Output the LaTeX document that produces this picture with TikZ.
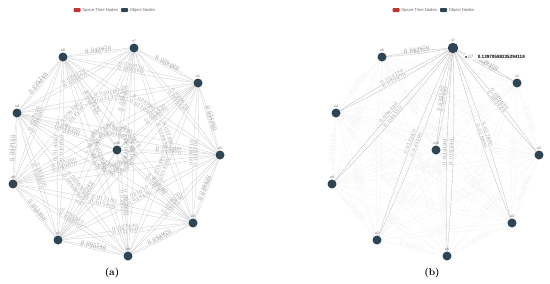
\documentclass[tikz,border=0pt]{standalone}
\usepackage{fontspec}
\newfontfamily\chartfont{Liberation Sans}
\usetikzlibrary{backgrounds}
\definecolor{objnode}{HTML}{2F4554}
\definecolor{stnode}{HTML}{C23531}

\begin{document}
\begin{tikzpicture}[x=1bp, y=-1bp,
    every node/.style={font=\chartfont},
    obj/.style={circle, fill=objnode, inner sep=0pt, minimum size=9bp},
    nlab/.style={font=\chartfont\fontsize{3.5}{4}\selectfont, text=gray!80!black, inner sep=0.8bp},
    link/.style={draw=gray!40, line width=0.3bp},
    elab/.style={font=\chartfont\fontsize{3.3}{3.6}\selectfont, text=gray!75, sloped, auto, inner sep=0.5bp},
    faded/.style={draw=gray!10, line width=0.3bp},
    fadelab/.style={elab, text=gray!12},
    hot/.style={draw=gray!50, line width=0.35bp},
    hotlab/.style={elab, text=gray!80},
    legbox/.style={fill=#1, rounded corners=0.8bp, minimum width=7bp, minimum height=4bp, inner sep=0pt},
    legtext/.style={font=\chartfont\fontsize{4.2}{5}\selectfont, text=gray!80!black, anchor=west, inner sep=0.6bp},
    tipbox/.style={fill=white, fill opacity=0.9, text opacity=1, draw=gray!15, rounded corners=1bp,
                   font=\chartfont\fontsize{4.6}{5}\selectfont, inner sep=1.2bp, anchor=west},
    captext/.style={font=\fontsize{10}{12}\selectfont\bfseries}
]
    \useasboundingbox (0,0) rectangle (550,283);
    % legends
    \node[legbox=stnode] (lsa) at (77,10) {};
    \node[legtext] (lta) at (81.5,10) {Space-Time Nodes};
    \node[legbox=objnode] (loa) at (124.5,10) {};
    \node[legtext] (lob) at (129,10) {Object Nodes};
    \node[legbox=stnode] (lsb) at (396,10) {};
    \node[legtext] (ltb) at (400.5,10) {Space-Time Nodes};
    \node[legbox=objnode] (lob) at (443.5,10) {};
    \node[legtext] (lobb) at (448,10) {Object Nodes};

    % (a) object nodes
    \foreach \n/\px/\py in {1/198/83, 2/58/240, 3/193/223, 4/17/113, 5/220/155,
                            6/63/57, 7/134/48, 8/128/256, 9/13/184, 10/117/150}
        \node[obj, label={[nlab]above:o\n}] (a\n) at (\px,\py) {};
    % (b) object nodes
    \foreach \n/\px/\py in {1/198/83, 2/58/240, 3/193/223, 4/17/113, 5/220/155,
                            6/63/57, 8/128/256, 9/13/184, 10/117/150}
        \node[obj, label={[nlab]above:o\n}] (b\n) at (\px+319,\py) {};
    \node[obj, minimum size=10.5bp, label={[nlab]above:o7}] (b7) at (453,48) {};

    % (a) links, two per pair
    \begin{scope}[on background layer]
        \pgfmathsetseed{41}
        \foreach \i in {1,...,9} {
            \pgfmathtruncatemacro\jst{\i+1}
            \foreach \j in {\jst,...,10} {
                \pgfmathsetmacro\wa{0.004+0.046*rnd}
                \pgfmathsetmacro\wb{0.004+0.046*rnd}
                \draw[link] (a\i) to[bend left=3]
                    node[elab] {\pgfmathprintnumber[fixed,precision=6,zerofill]{\wa}} (a\j);
                \draw[link] (a\j) to[bend left=3]
                    node[elab] {\pgfmathprintnumber[fixed,precision=6,zerofill]{\wb}} (a\i);
            }
        }
    \end{scope}

    % (b) links, o7 highlighted
    \begin{scope}[on background layer]
        \pgfmathsetseed{41}
        \foreach \i in {1,...,9} {
            \pgfmathtruncatemacro\jst{\i+1}
            \foreach \j in {\jst,...,10} {
                \pgfmathsetmacro\wa{0.004+0.046*rnd}
                \pgfmathsetmacro\wb{0.004+0.046*rnd}
                \def\lk{faded}\def\lb{fadelab}
                \ifnum\i=7 \def\lk{hot}\def\lb{hotlab}\fi
                \ifnum\j=7 \def\lk{hot}\def\lb{hotlab}\fi
                \draw[\lk] (b\i) to[bend left=3]
                    node[\lb] {\pgfmathprintnumber[fixed,precision=6,zerofill]{\wa}} (b\j);
                \draw[\lk] (b\j) to[bend left=3]
                    node[\lb] {\pgfmathprintnumber[fixed,precision=6,zerofill]{\wb}} (b\i);
            }
        }
    \end{scope}

    % tooltip
    \node[tipbox] (tip) at (463,57)
        {\phantom{o}\ \textcolor{gray}{o7}\quad\textbf{0.13970588235294118}};
    \node[circle, fill=objnode, inner sep=0pt, minimum size=2.2bp] (tipdot) at (466,57) {};

    % captions
    \node[captext] (capa) at (112,273) {(a)};
    \node[captext] (capb) at (432,273) {(b)};
\end{tikzpicture}
\end{document}
